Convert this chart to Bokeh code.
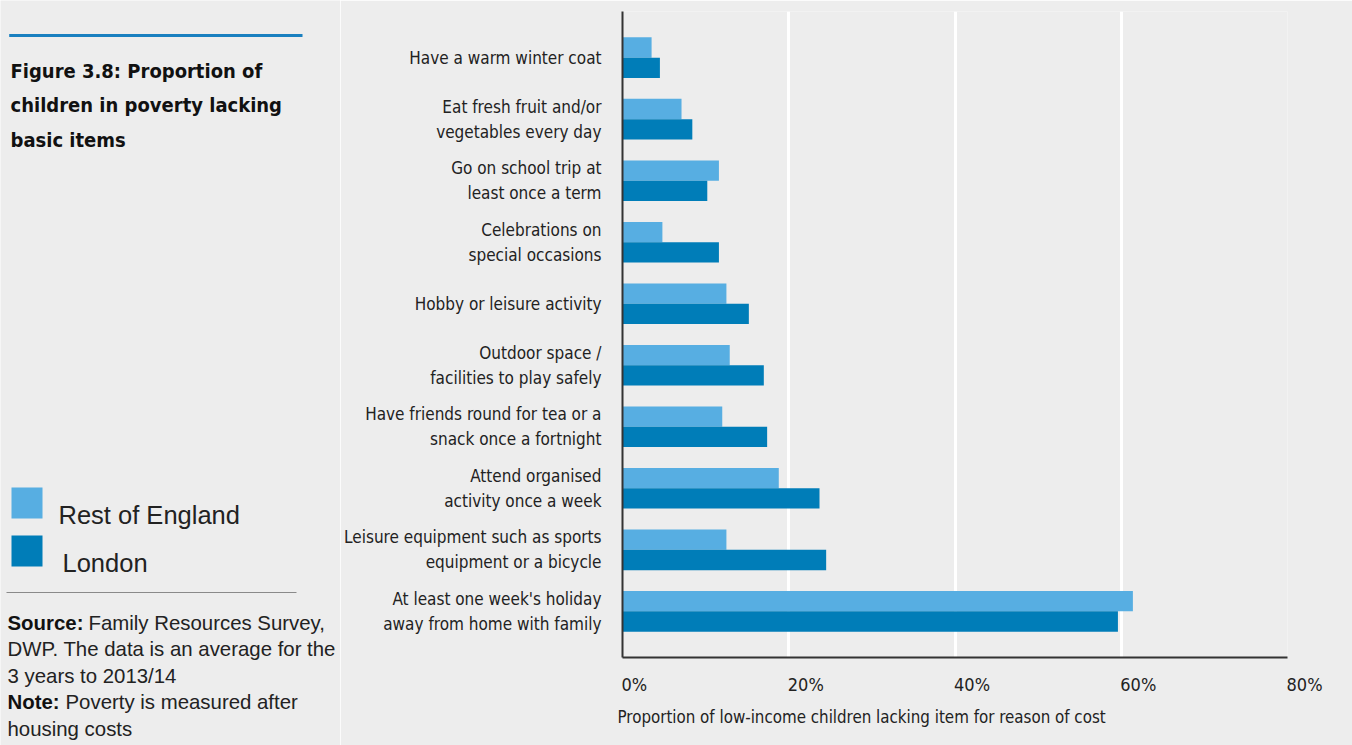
from bokeh.plotting import figure
from bokeh.layouts import row
from bokeh.models import FactorRange, Title, ColumnDataSource, LinearAxis, FixedTicker
from bokeh.transform import dodge
from bokeh.core.properties import value
from bokeh.embed import file_html
from bokeh.resources import INLINE

# ---------------- data ----------------
categories = [
    "Have a warm winter coat",
    "Eat fresh fruit and/or\nvegetables every day",
    "Go on school trip at\nleast once a term",
    "Celebrations on\nspecial occasions",
    "Hobby or leisure activity",
    "Outdoor space /\nfacilities to play safely",
    "Have friends round for tea or a\nsnack once a fortnight",
    "Attend organised\nactivity once a week",
    "Leisure equipment such as sports\nequipment or a bicycle",
    "At least one week's holiday\naway from home with family",
]
rest_of_england = [3.5, 7.1, 11.6, 4.8, 12.5, 12.9, 12.0, 18.8, 12.5, 61.4]
london = [4.5, 8.4, 10.2, 11.6, 15.2, 17.0, 17.4, 23.7, 24.5, 59.6]
series_names = ["Rest of England", "London"]
series_colors = ["#57AEE2", "#007DB8"]
x_ticks = [0, 20, 40, 60, 80]
x_tick_labels = ["0%", "20%", "40%", "60%", "80%"]

BG = "#ededed"
COND = "DejaVu Sans Condensed, DejaVu Sans, sans-serif"
SANS = "Liberation Sans, Arial, sans-serif"

# ---------------- left panel (page pixel coordinates) ----------------
LW, H = 340, 745
left = figure(width=LW, height=H, x_range=(0, LW), y_range=(H, 0),
              output_backend="svg", toolbar_location=None,
              min_border=0, outline_line_color=None,
              background_fill_color=BG, border_fill_color=BG)
left.axis.visible = False
left.grid.visible = False
left.frame_align = False

left.line([8.7, 302], [35, 35], line_color="#1a80c0", line_width=3)
title_lines = ["Figure 3.8: Proportion of", "children in poverty lacking", "basic items"]
left.text(x=[10, 10, 10], y=[70, 104.5, 139], text=title_lines,
          text_font=value(COND), text_font_style="bold", text_font_size="20px",
          text_color="#111111", text_baseline="alphabetic", text_align="left")

left.rect(x=[26.5, 26.5], y=[502.5, 550.5], width=31, height=31,
          fill_color=series_colors, line_color=None)
left.text(x=[58, 62], y=[514, 562], text=series_names,
          text_font=value(SANS), text_font_size="25.5px", text_color="#222222",
          text_baseline="alphabetic", text_align="left")

left.line([6, 296], [592, 592], line_color="#8a8a8a", line_width=1)

src_y = [622, 648.5, 675, 701.5, 728]
left.text(x=[7, 7], y=[src_y[0], src_y[3]], text=["Source:", "Note:"],
          text_font=value(SANS), text_font_style="bold", text_font_size="20.4px",
          text_color="#111111", text_baseline="alphabetic", text_align="left")
left.text(x=[88, 65], y=[src_y[0], src_y[3]],
          text=["Family Resources Survey,", "Poverty is measured after"],
          text_font=value(SANS), text_font_size="20.4px", text_color="#222222",
          text_baseline="alphabetic", text_align="left")
left.text(x=[7, 7, 7], y=[src_y[1], src_y[2], src_y[4]],
          text=["DWP. The data is an average for the", "3 years to 2013/14", "housing costs"],
          text_font=value(SANS), text_font_size="20.4px", text_color="#222222",
          text_baseline="alphabetic", text_align="left")

# ---------------- main chart ----------------
MW = 1352 - LW
src = ColumnDataSource(dict(cat=categories, rest=rest_of_england, london=london))
p = figure(width=MW, height=H,
           y_range=FactorRange(factors=categories[::-1], range_padding=0.05),
           x_range=(0, 80), output_backend="svg", toolbar_location=None,
           min_border_left=622 - LW, min_border_right=MW - (622 - LW) - 665,
           min_border_top=11, min_border_bottom=H - 657, outline_line_color=None,
           background_fill_color=BG, border_fill_color=BG, x_axis_location=None)
p.frame_align = False

p.hbar(y=dodge("cat", 0.165, range=p.y_range), right="rest", left=0, height=0.33,
       source=src, fill_color=series_colors[0], line_color=None)
p.hbar(y=dodge("cat", -0.165, range=p.y_range), right="london", left=0, height=0.33,
       source=src, fill_color=series_colors[1], line_color=None)

# tick labels sit to the right of their tick, as in the original
pad = "\u2007"
xaxis = LinearAxis(ticker=FixedTicker(ticks=x_ticks),
                   major_label_overrides={t: pad * len(l) + "\u2009" + l
                                          for t, l in zip(x_ticks, x_tick_labels)})
xaxis.axis_line_color = "#333333"
xaxis.axis_line_width = 2
xaxis.major_tick_line_color = None
xaxis.minor_tick_line_color = None
xaxis.major_label_standoff = 10
xaxis.major_label_text_font = COND
xaxis.major_label_text_font_size = "18px"
xaxis.major_label_text_color = "#222222"
p.add_layout(xaxis, "below")

p.add_layout(Title(text="Proportion of low-income children lacking item for reason of cost",
                   align="left", offset=-5, text_font=COND, text_font_size="16.8px",
                   text_font_style="normal", text_color="#222222", standoff=15), "below")

yaxis = p.yaxis[0]
yaxis.axis_line_color = "#333333"
yaxis.axis_line_width = 2
yaxis.major_tick_line_color = None
yaxis.minor_tick_line_color = None
yaxis.major_label_standoff = 15
yaxis.major_label_text_font = COND
yaxis.major_label_text_font_size = "17px"
yaxis.major_label_text_color = "#222222"
yaxis.major_label_text_line_height = 1.25

p.ygrid.visible = False
p.xgrid.grid_line_color = "white"
p.xgrid.grid_line_width = 3
p.xgrid.ticker = FixedTicker(ticks=x_ticks)

layout = row(left, p)
open("out.html", "w").write(file_html(layout, INLINE))
